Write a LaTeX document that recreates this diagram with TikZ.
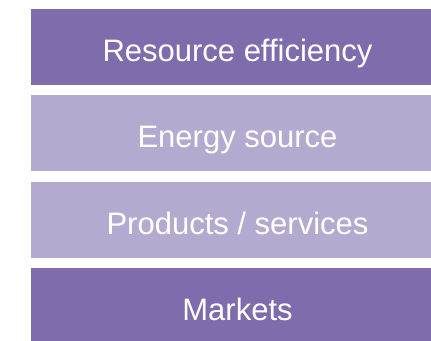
\documentclass[tikz,border=0pt]{standalone}
\usepackage{fontspec}
\setmainfont{Liberation Sans}
\usetikzlibrary{positioning}
\definecolor{darkviolet}{HTML}{7F6CAC}
\definecolor{lightviolet}{HTML}{B4AAD0}

\begin{document}
\begin{tikzpicture}[x=1pt, y=1pt, node distance=10pt,
  bar/.style={minimum width=413pt, minimum height=76pt, inner sep=0pt,
    text=white, font=\fontsize{31}{36}\selectfont,
    text height=30pt, text depth=1.5pt}]
\useasboundingbox (0,0) rectangle (431,-340);

\node[bar, fill=darkviolet] (eff) at (237.5,-47) {Resource efficiency};
\node[bar, fill=lightviolet, below=of eff] (energy) {Energy source};
\node[bar, fill=lightviolet, below=of energy] (prod) {Products / services};
\node[bar, fill=darkviolet, below=of prod] (markets) {Markets};
\end{tikzpicture}
\end{document}
